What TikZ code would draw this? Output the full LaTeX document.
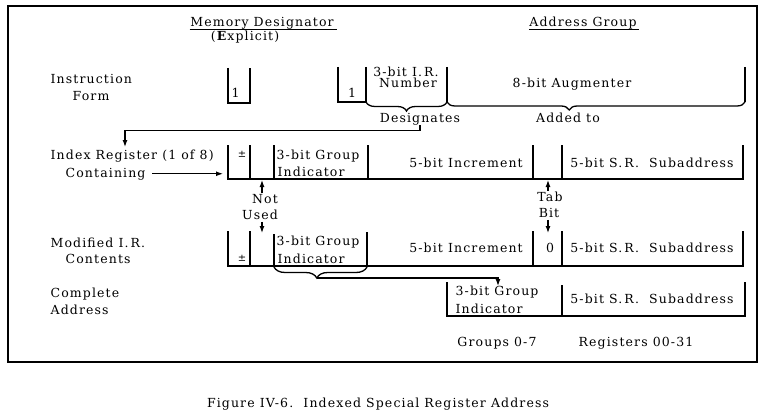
\documentclass[tikz,border=0pt]{standalone}
\usepackage{fontspec}
\newfontfamily\lbl{DejaVu Serif}[LetterSpace=9]
\usetikzlibrary{arrows.meta,decorations.pathreplacing,calc}
\begin{document}
\begin{tikzpicture}[x=1pt,y=-1pt,
  font={\lbl\fontsize{12.5pt}{15pt}\selectfont},
  line width=1.3pt,
  txt/.style={inner sep=0pt,anchor=base},
  txtl/.style={inner sep=0pt,anchor=base west},
  pmsign/.style={inner sep=0pt,anchor=base,font={\lbl\fontsize{10pt}{11pt}\selectfont}},
  arr/.style={-{Latex[length=7pt,width=5pt]},line width=1.2pt},
  brc/.style={decorate,decoration={brace,mirror,amplitude=#1}},
  uline/.style={line width=1pt}]
\useasboundingbox (0,0) rectangle (771,420);
% frame
\draw[line width=1.8pt] (8,6) rectangle (757,362);

% headers
\node[txt] (md) at (262,27) {Memory Designator};
\draw[uline] ($(md.base west)+(0,3)$) -- ($(md.base east)+(3,3)$);
\node[txt] (ex) at (245,41) {(\textbf{E}xplicit)};
\node[txt] (ag) at (583,27) {Address Group};
\draw[uline] ($(ag.base west)+(0,3)$) -- ($(ag.base east)+(2,3)$);

% instruction form
\node[txtl] (inst) at (50,83) {Instruction};
\node[txt] (form) at (91,100) {Form};
\draw (228,68) -- (228,103) -- (250,103) -- (250,68);
\node[txtl] (one1) at (231,97) {1};
\draw (338,67) -- (338,102) -- (366,102);
\draw (366,67) -- (366,102);
\draw (447,67) -- (447,102);
\draw (745,67) -- (745,102);
\draw[brc=9pt] (366,102) -- (447,102);
\draw[brc=8pt,decoration={aspect=0.41}] (447,102) -- (745,102);
\node[txt] (one2) at (352,97) {1};
\node[txt] (irn1) at (406,76.5) {3-bit I.\,R.};
\node[txt] (irn2) at (408,88) {Number};
\node[txt] (aug) at (572,88) {8-bit Augmenter};
\node[txt] (des) at (420,122) {Designates};
\node[txt] (add) at (568,122) {Added to};

% index register row
\node[txtl] (ir) at (50,159) {Index Register (1 of 8)};
\node[txtl] (cont) at (65,177) {Containing};
\draw (228,145) -- (228,179) -- (743,179) -- (743,145);
\foreach \x in {250,274,368,533,562} \draw (\x,145) -- (\x,179);
\node[pmsign] (pm1) at (242,157) {±};
\node[txtl] (g1a) at (276,159) {3-bit Group};
\node[txtl] (g1b) at (277,176) {Indicator};
\node[txt] (inc1) at (466,167) {5-bit Increment};
\node[txt] (sr1) at (652,167) {5-bit S.\,R.\ \ Subaddress};
\coordinate (irarrow) at (125,147);
\coordinate (irleft) at (223,173);
\draw[arr] (des.south) -- ++(0,5) -| (irarrow);
\draw[arr] ([xshift=6pt]cont.east) -- (cont.east -| irleft);

% not used / tab bit
\node[txt] (nt) at (265,203) {Not};
\node[txt] (us) at (260,219) {Used};
\node[txt] (tab) at (550,201) {Tab};
\node[txt] (bit) at (549,217) {Bit};
\coordinate (nuup) at (262,180);
\coordinate (nudn) at (262,233);
\coordinate (tbup) at (548,180);
\coordinate (tbdn) at (548,233);
\draw[arr] (nt.north -| nuup) -- (nuup);
\draw[arr] ([yshift=-2pt]us.south -| nudn) -- (nudn);
\draw[arr] (tab.north -| tbup) -- (tbup);
\draw[arr] ([yshift=-2pt]bit.south -| tbdn) -- (tbdn);

% modified row
\node[txtl] (mod) at (50,247) {Modified I.\,R.};
\node[txtl] (mcont) at (65,263) {Contents};
\draw (228,231) -- (228,266) -- (743,266) -- (743,231);
\draw (250,231) -- (250,266);
\draw (274,234) -- (274,266);
\draw (367,232) -- (367,266);
\draw (533,231) -- (533,266);
\draw (562,231) -- (562,266);
\node[pmsign] (pm2) at (242,261) {±};
\node[txtl] (g2a) at (276,245) {3-bit Group};
\node[txtl] (g2b) at (277,263) {Indicator};
\node[txt] (inc2) at (466,252) {5-bit Increment};
\node[txt] (zero) at (550,252) {0};
\node[txt] (sr2) at (652,252) {5-bit S.\,R.\ \ Subaddress};
\draw[brc=11pt,decoration={aspect=0.46}] (274,267) -- (367,267);
\coordinate (btip) at (317,278);
\coordinate (cgi) at (498,286);
\draw[arr] (btip) -| (cgi);

% complete address
\node[txtl] (comp) at (50,297) {Complete};
\node[txtl] (caddr) at (50,314) {Address};
\draw (447,282) -- (447,316) -- (745,316) -- (745,282);
\draw (562,285) -- (562,316);
\node[txtl] (g3a) at (455,295) {3-bit Group};
\node[txtl] (g3b) at (455,313) {Indicator};
\node[txt] (sr3) at (652,303) {5-bit S.\,R.\ \ Subaddress};
\node[txt] (grp) at (497,346) {Groups 0-7};
\node[txt] (regs) at (636,346) {Registers 00-31};

% caption
\node[txt] (cap) at (378,407) {Figure IV-6.\ \ Indexed Special Register Address};
\end{tikzpicture}
\end{document}
